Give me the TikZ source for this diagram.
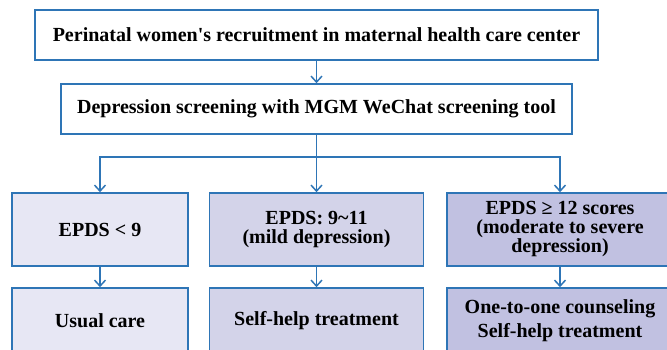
\documentclass[tikz,border=0pt]{standalone}
\usepackage{fontspec}
\setmainfont{Liberation Serif}[Ligatures=TeXOff,BoldFont={Liberation Serif Bold}]
\usetikzlibrary{arrows.meta}
\definecolor{bl}{HTML}{2E75B6}
\definecolor{fa}{HTML}{E7E7F4}
\definecolor{fb}{HTML}{D3D3E9}
\definecolor{fc}{HTML}{C1C1E1}
\begin{document}
\begin{tikzpicture}[x=1pt,y=-1pt,
  box/.style={draw=bl, line width=1.6pt, align=center, inner sep=0pt,
    font=\rmfamily\bfseries\fontsize{20}{19}\selectfont},
  arr/.style={draw=bl, line width=1.5pt, -{Straight Barb[length=6pt,width=11pt,line width=1.5pt]}},
  lin/.style={draw=bl, line width=1.5pt}]
\useasboundingbox[fill=white] (0,0) rectangle (667,350);
\node[box, fill=white, minimum width=563pt, minimum height=50pt] (top) at (316.5,35) {Perinatal women's recruitment in maternal health care center};
\node[box, fill=white, minimum width=511pt, minimum height=50pt] (mid) at (316.5,109) {Depression screening with MGM WeChat screening tool};
\coordinate (j) at (316.5,157);
\node[box, fill=fa, minimum width=176pt, minimum height=73pt] (a1) at (100,229.5) {EPDS < 9};
\node[box, fill=fb, minimum width=214pt, minimum height=73pt] (b1) at (316.5,229.5) {EPDS: 9\string~11\\(mild depression)};
\node[box, fill=fc, minimum width=226pt, minimum height=73pt] (c1) at (560,229.5) {EPDS ≥ 12 scores\\(moderate to severe\\depression)};
\node[box, fill=fa, minimum width=176pt, minimum height=66pt] (a2) at (100,321) {Usual care};
\node[box, fill=fb, minimum width=214pt, minimum height=66pt] (b2) at (316.5,321) {Self-help treatment};
\node[box, fill=fc, minimum width=226pt, minimum height=66pt, font=\rmfamily\bfseries\fontsize{20}{24}\selectfont] (c2) at (560,321) {One-to-one counseling\\Self-help treatment};
\draw[arr] (top) -- (mid);
\draw[lin] (mid) -- (j);
\draw[arr] (j) -| (a1);
\draw[arr] (j) -| (c1);
\draw[arr] (j) -- (b1);
\draw[arr] (a1) -- (a2);
\draw[arr] (b1) -- (b2);
\draw[arr] (c1) -- (c2);
\end{tikzpicture}
\end{document}
